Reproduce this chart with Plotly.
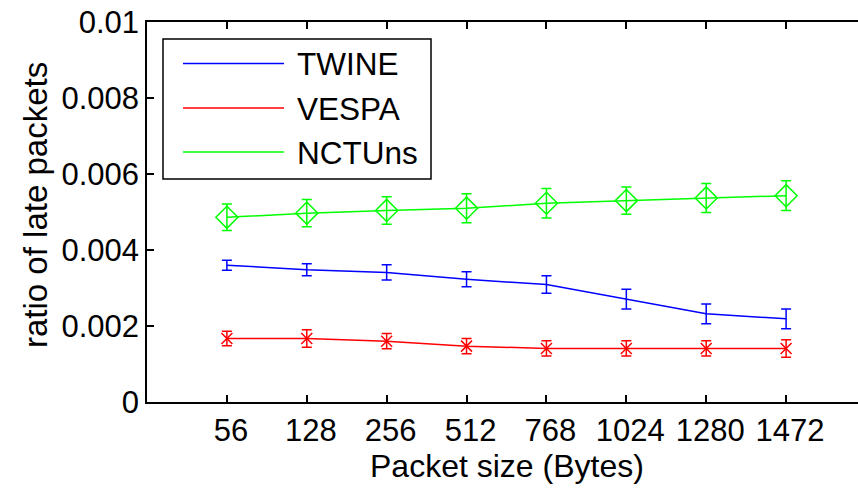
import plotly.graph_objects as go

packet_sizes = ["56", "128", "256", "512", "768", "1024", "1280", "1472"]
positions = [1, 2, 3, 4, 5, 6, 7, 8]

twine = [0.00360, 0.00348, 0.00341, 0.00323, 0.00309, 0.00271, 0.00232, 0.00219]
twine_err = [0.00013, 0.00016, 0.00020, 0.00020, 0.00023, 0.00026, 0.00026, 0.00026]

vespa = [0.00167, 0.00167, 0.00160, 0.00147, 0.00141, 0.00141, 0.00141, 0.00141]
vespa_err = [0.00019, 0.00023, 0.00020, 0.00020, 0.00020, 0.00020, 0.00020, 0.00023]

nctuns = [0.00486, 0.00497, 0.00504, 0.00510, 0.00523, 0.00530, 0.00537, 0.00543]
nctuns_err = [0.00035, 0.00036, 0.00036, 0.00038, 0.00039, 0.00036, 0.00038, 0.00039]

series_names = ["TWINE", "VESPA", "NCTUns"]

y_ticks = [0, 0.002, 0.004, 0.006, 0.008, 0.01]
y_ticktext = ["0", "0.002", "0.004", "0.006", "0.008", "0.01"]

FONT = "Liberation Sans, Arial, Helvetica, sans-serif"
BLUE, RED, GREEN = "#0000FF", "#FF0000", "#00FF00"

# figure geometry (pixels)
W, H = 858, 491
ML, MR, MT, MB = 147, 0, 22, 89
PW, PH = W - ML - MR, H - MT - MB


def px_x(p):
    return (p - ML) / PW


def px_y(p):
    return (H - MB - p) / PH


fig = go.Figure()

fig.add_trace(go.Scatter(
    x=positions, y=twine, name=series_names[0], mode="lines",
    line=dict(color=BLUE, width=1.5),
    error_y=dict(type="data", array=twine_err, color=BLUE, thickness=1.5, width=5),
))
fig.add_trace(go.Scatter(
    x=positions, y=vespa, name=series_names[1], mode="lines+markers",
    line=dict(color=RED, width=1.5),
    marker=dict(symbol="x-thin-open", size=11, color=RED, line=dict(color=RED, width=1.5)),
    error_y=dict(type="data", array=vespa_err, color=RED, thickness=1.5, width=5),
))
fig.add_trace(go.Scatter(
    x=positions, y=nctuns, name=series_names[2], mode="lines+markers",
    line=dict(color=GREEN, width=1.5),
    marker=dict(symbol="diamond-open", size=17, color=GREEN, line=dict(color=GREEN, width=1.5)),
    error_y=dict(type="data", array=nctuns_err, color=GREEN, thickness=1.5, width=5),
))

# ---- manual legend (MATLAB style) ----
leg_left, leg_right, leg_top, leg_bottom = 163, 431, 39, 179
row_y = [63.5, 108, 152]
line_x0, line_x1, text_x = 183, 284, 295
shapes = [dict(type="rect", xref="paper", yref="paper",
               x0=px_x(leg_left), x1=px_x(leg_right), y0=px_y(leg_bottom), y1=px_y(leg_top),
               line=dict(color="black", width=1.5), fillcolor="white", layer="above")]
colors = [BLUE, RED, GREEN]
for ry, c in zip(row_y, colors):
    shapes.append(dict(type="line", xref="paper", yref="paper",
                       x0=px_x(line_x0), x1=px_x(line_x1), y0=px_y(ry), y1=px_y(ry),
                       line=dict(color=c, width=1.5), layer="above"))

annotations = []
for ry, name in zip(row_y, series_names):
    annotations.append(dict(text=name, xref="paper", yref="paper",
                            x=px_x(text_x), y=px_y(ry + 1), xanchor="left", yanchor="middle",
                            showarrow=False, font=dict(size=31.5, color="black")))

# legend marker samples on an overlay axis mapped to paper coordinates
mid_x = px_x((line_x0 + line_x1) / 2)
fig.add_trace(go.Scatter(
    x=[mid_x], y=[px_y(row_y[1])], xaxis="x2", yaxis="y2", mode="markers", showlegend=False,
    hoverinfo="skip",
    marker=dict(symbol="x-thin-open", size=11, color=RED, line=dict(color=RED, width=1.5)),
))
fig.add_trace(go.Scatter(
    x=[mid_x], y=[px_y(row_y[2])], xaxis="x2", yaxis="y2", mode="markers", showlegend=False,
    hoverinfo="skip",
    marker=dict(symbol="diamond-open", size=17, color=GREEN, line=dict(color=GREEN, width=1.5)),
))

# axis titles
annotations.append(dict(text="Packet size (Bytes)", xref="paper", yref="paper",
                        x=px_x(507), y=px_y(466), xanchor="center", yanchor="middle",
                        showarrow=False, font=dict(size=32, color="black")))
annotations.append(dict(text="ratio of late packets", xref="paper", yref="paper",
                        x=px_x(35), y=px_y(205), xanchor="center", yanchor="middle",
                        textangle=-90, showarrow=False, font=dict(size=33, color="black")))

fig.update_layout(
    width=W, height=H,
    margin=dict(l=ML, r=MR, t=MT, b=MB),
    paper_bgcolor="white", plot_bgcolor="white",
    font=dict(family=FONT, size=31, color="black"),
    showlegend=False,
    shapes=shapes,
    annotations=annotations,
    xaxis=dict(
        range=[0, 8.9], tickvals=positions, ticktext=packet_sizes,
        showline=True, linecolor="black", linewidth=1.5, mirror="ticks",
        ticks="inside", ticklen=7, tickwidth=1.5, tickcolor="black",
        showgrid=False, zeroline=False, ticklabelshift=4,
    ),
    yaxis=dict(
        range=[0, 0.01], tickvals=y_ticks, ticktext=y_ticktext,
        showline=True, linecolor="black", linewidth=1.5, mirror=False,
        ticks="inside", ticklen=7, tickwidth=1.5, tickcolor="black",
        showgrid=False, zeroline=False,
    ),
    xaxis2=dict(range=[0, 1], overlaying="x", visible=False, fixedrange=True),
    yaxis2=dict(range=[0, 1], overlaying="y", visible=False, fixedrange=True),
)

fig.write_html("out.html")
